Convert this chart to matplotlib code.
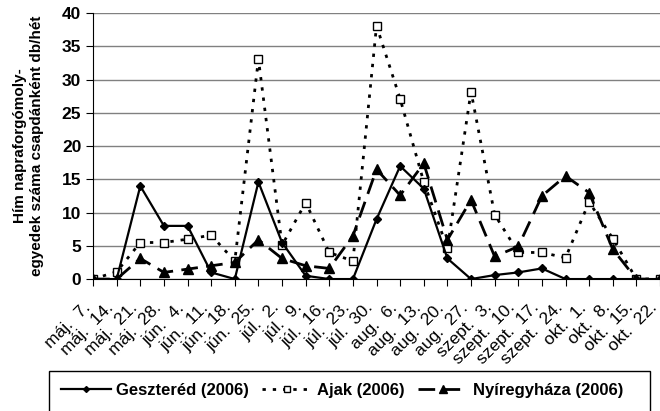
import matplotlib.pyplot as plt
from matplotlib.patches import Rectangle
from matplotlib.ticker import MultipleLocator

plt.rcParams['font.family'] = ['Liberation Sans', 'DejaVu Sans']

dates = ['máj. 7.', 'máj. 14.', 'máj. 21.', 'máj. 28.', 'jún. 4.', 'jún. 11.',
         'jún. 18.', 'jún. 25.', 'júl. 2.', 'júl. 9.', 'júl. 16.', 'júl. 23.',
         'júl. 30.', 'aug. 6.', 'aug. 13.', 'aug. 20.', 'aug. 27.', 'szept. 3.',
         'szept. 10.', 'szept. 17.', 'szept. 24.', 'okt. 1.', 'okt. 8.',
         'okt. 15.', 'okt. 22.']
geszterod = [0, 0, 14, 8, 8, 1, 0, 14.6, 5.5, 0.5, 0, 0, 9, 17, 13.6, 3.1,
             0, 0.6, 1, 1.6, 0, 0, 0, 0, 0]
ajak = [0, 1.1, 5.5, 5.5, 6, 6.6, 2.7, 33.1, 5.1, 11.5, 4, 2.7, 38.1, 27.1,
        14.6, 4.6, 28.2, 9.7, 4, 4, 3.2, 11.6, 6.1, 0, 0]
nyiregyhaza = [0, 0, 3.1, 1, 1.5, 2, 2.5, 5.9, 3.1, 2, 1.6, 6.5, 16.5, 12.6,
               17.4, 5.9, 11.9, 3.4, 4.9, 12.5, 15.5, 13, 4.5, 0, 0]

fig = plt.figure(figsize=(6.6, 4.11), dpi=100)
ax = fig.add_axes([0.141, 0.321, 0.859, 0.647])

x = range(len(dates))
ax.plot(x, geszterod, color='black', lw=1.6, marker='D', ms=4,
        mfc='black', label='Geszteréd (2006)', zorder=4)
ax.plot(x, ajak, color='black', lw=2, ls=(0, (1.2, 2.5)), marker='s', ms=6,
        mfc='white', mec='black', mew=1, label='Ajak (2006)', zorder=3)
ax.plot(x, nyiregyhaza, color='black', lw=2, ls=(0, (6, 3)), marker='^',
        ms=7, mfc='black', label='Nyíregyháza (2006)', zorder=3)

ax.set_xlim(0, len(dates) - 1)
ax.set_ylim(0, 40)
ax.yaxis.set_major_locator(MultipleLocator(5))
ax.grid(axis='y', color='#808080', lw=1)
ax.set_axisbelow(True)
for s in ['top', 'right']:
    ax.spines[s].set_visible(False)

# rotated date labels, anchored like the spreadsheet original
ax.set_xticks(list(x))
ax.set_xticklabels([d.replace(' ', '  ') for d in dates], rotation=45,
                   ha='right', va='top', fontsize=12.5)
ax.tick_params(axis='x', length=5, pad=10)
ax.tick_params(axis='y', length=5, labelsize=12.5)
for t in ax.get_yticklabels():
    t.set_fontweight('bold')

ax.set_ylabel('Hím napraforgómoly-\negyedek száma csapdánként db/hét',
              fontsize=11, fontweight='bold', labelpad=13)

# legend box reaching past the bottom edge
fig.patches.append(Rectangle((49 / 660, -0.05), 601 / 660, 0.05 + 40 / 411,
                             transform=fig.transFigure, fill=False,
                             edgecolor='black', lw=1))
fig.legend(loc='center left', bbox_to_anchor=(46 / 660, 1 - 390 / 411),
           ncol=3, frameon=False, handlelength=3.0, handletextpad=0.3,
           columnspacing=0.8, markerscale=0.75,
           prop={'weight': 'bold', 'size': 12})

fig.savefig('out.png', dpi=100)
